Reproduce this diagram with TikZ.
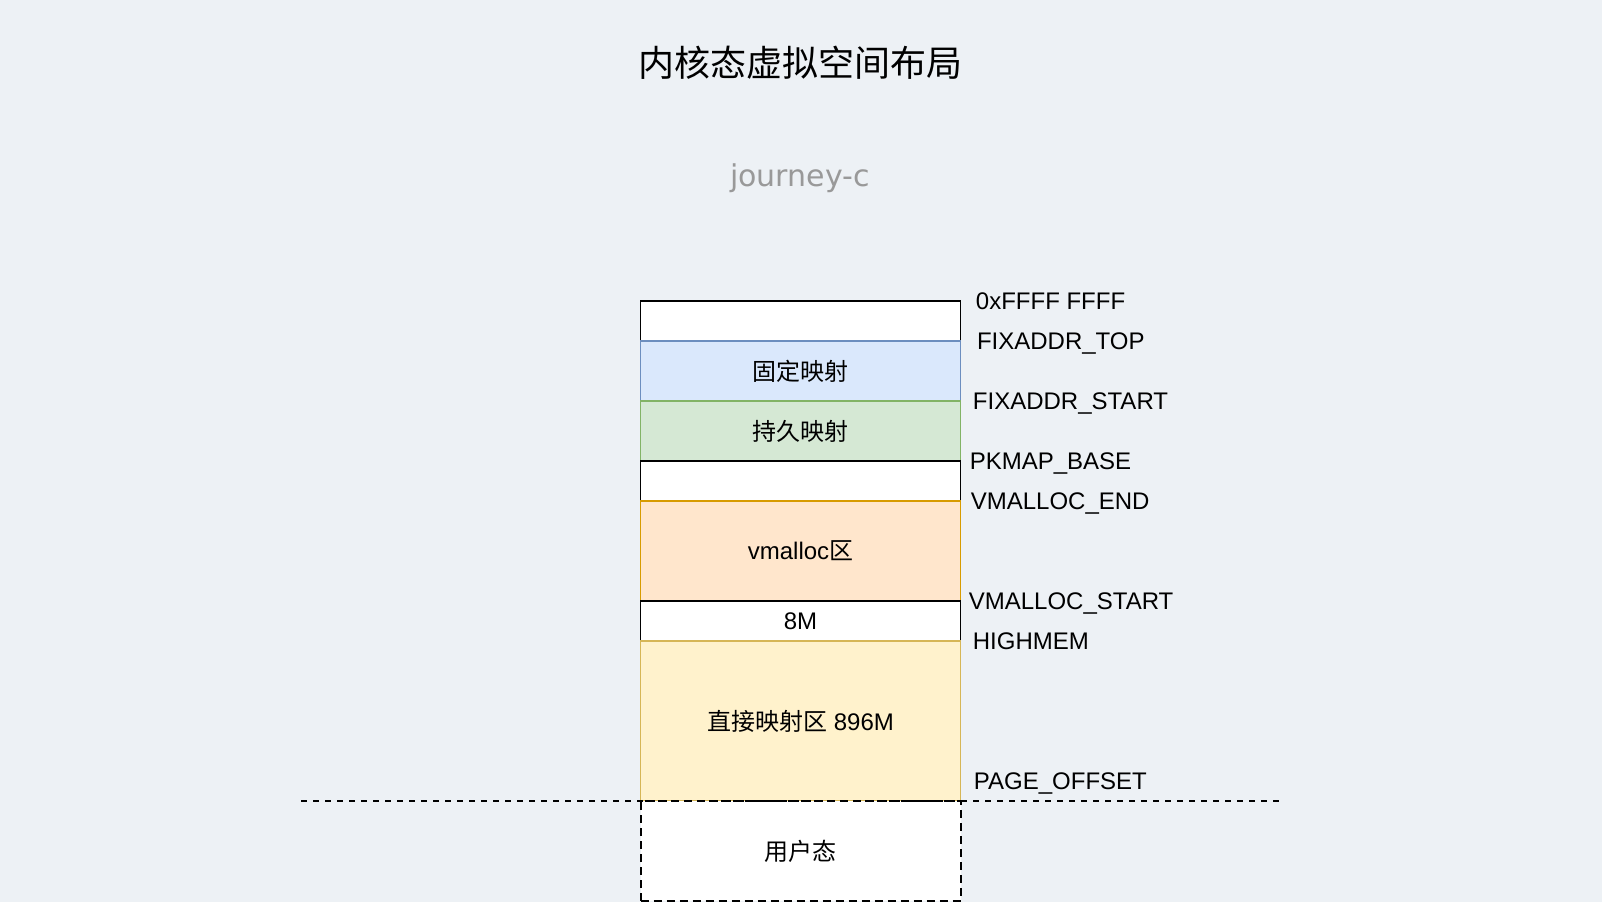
\documentclass[tikz,border=0pt]{standalone}
\usepackage{fontspec}
\setmainfont{Liberation Sans}
\newfontfamily\cjk{Noto Sans CJK SC}
\newfontfamily\handfont{DejaVu Sans}
\usetikzlibrary{positioning}
\definecolor{bgcol}{HTML}{EDF1F5}
\definecolor{fixfill}{HTML}{DAE8FC}
\definecolor{fixline}{HTML}{6C8EBF}
\definecolor{pkfill}{HTML}{D5E8D4}
\definecolor{pkline}{HTML}{82B366}
\definecolor{vmfill}{HTML}{FFE6CC}
\definecolor{vmline}{HTML}{D79B00}
\definecolor{dirfill}{HTML}{FFF2CC}
\definecolor{dirline}{HTML}{D6B656}
\tikzset{
  layer/.style={rectangle, minimum width=320pt, inner sep=0pt, line width=1.8pt,
    font=\fontsize{24}{29}\selectfont},
  addr/.style={anchor=west, inner sep=0pt, text height=17pt, text depth=0pt,
    font=\fontsize{24}{29}\selectfont},
  cut/.style={line width=2pt, dash pattern=on 6pt off 6pt}
}
% name, centre y, height, colours, text
\newcommand\memlayer[5]
{
\node[layer, #4, minimum height=#3pt] (#1) at (800.5,#2) {#5};
}

\begin{document}
\begin{tikzpicture}[x=1pt, y=-1pt]
\fill[bgcol] (0,0) rectangle (1602,902);
\useasboundingbox (0,0) rectangle (1602,902);
\node[font=\cjk\fontsize{36}{44}\selectfont] (title) at (800,63) {内核态虚拟空间布局};
\node[anchor=base, text=black!40, font=\handfont\fontsize{30}{36}\selectfont] (sign) at (800,186) {journey-c};
% kernel part, top to bottom
\memlayer{top}{321}{40}{fill=white, draw=black}{}
\memlayer{fixmap}{371}{60}{fill=fixfill, draw=fixline}{\cjk 固定映射}
\memlayer{pkmap}{431}{60}{fill=pkfill, draw=pkline}{\cjk 持久映射}
\memlayer{gap}{481}{40}{fill=white, draw=black}{}
\memlayer{vmalloc}{551}{100}{fill=vmfill, draw=vmline}{vmalloc{\cjk 区}}
\memlayer{guard}{621}{40}{fill=white, draw=black}{8M}
\memlayer{direct}{721}{160}{fill=dirfill, draw=dirline}{{\cjk 直接映射区} 896M}
\memlayer{user}{851}{100}{fill=white, draw=black, line width=2pt, dash pattern=on 8pt off 5pt}{\cjk 用户态}
% addresses
\node[addr] (a0) at (975.7,301) {0xFFFF FFFF};
\node[addr] (a1) at (976.8,341) {FIXADDR\_TOP};
\node[addr] (a2) at (972.7,401) {FIXADDR\_START};
\node[addr] (a3) at (969.6,461) {PKMAP\_BASE};
\node[addr] (a4) at (970.6,501) {VMALLOC\_END};
\node[addr] (a5) at (968.6,601) {VMALLOC\_START};
\node[addr] (a6) at (972.7,641) {HIGHMEM};
\node[addr] (a7) at (973.7,781) {PAGE\_OFFSET};
% user / kernel split
\coordinate (cutL) at (301,801);
\coordinate (cutR) at (1279,801);
\draw[cut] (cutL) -- (cutR);
\end{tikzpicture}
\end{document}
